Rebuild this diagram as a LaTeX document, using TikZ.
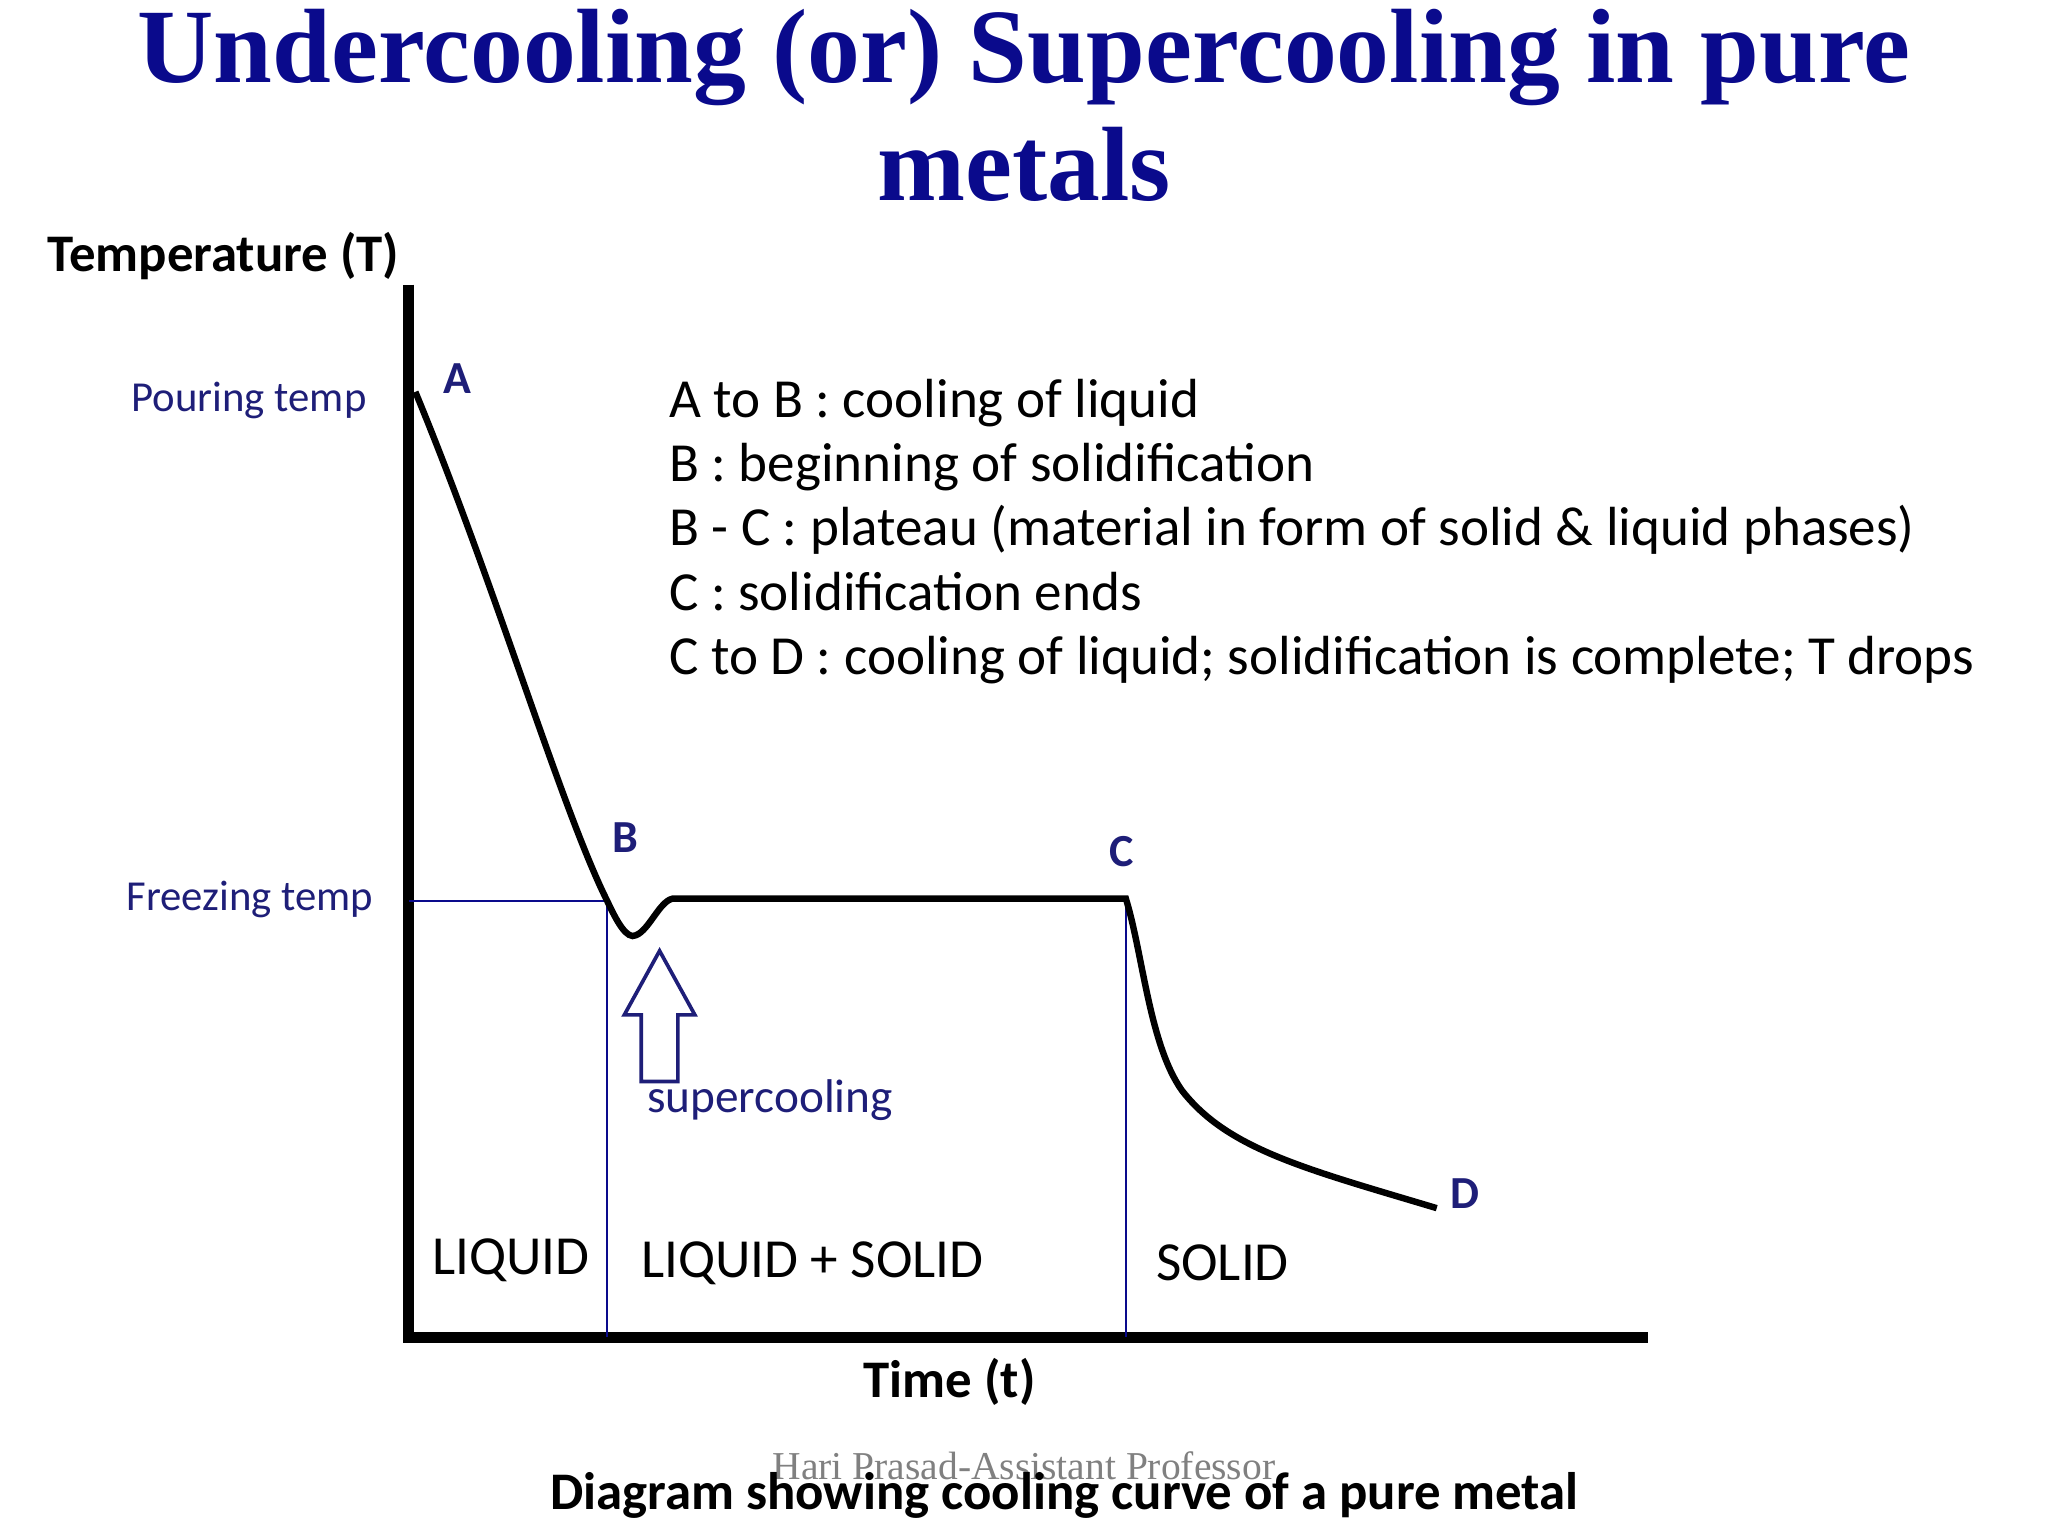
\documentclass[tikz,border=0pt]{standalone}
\usepackage{fontspec}
\setmainfont{Carlito}
\newfontfamily\titlefont{Liberation Serif}
\definecolor{tblue}{RGB}{10,10,140}
\definecolor{lblue}{RGB}{30,30,120}
\begin{document}
\begin{tikzpicture}[x=0.01cm,y=-0.01cm,
  ttl/.style={font=\titlefont\bfseries\fontsize{23}{27}\selectfont,text=tblue},
  lbl/.style={font=\fontsize{12}{14}\selectfont,text=black},
  blab/.style={font=\fontsize{9.3}{11}\selectfont,text=lblue},
  pt/.style={font=\bfseries\fontsize{10}{12}\selectfont,text=lblue},
  axis/.style={line width=2.4pt,black},
  curve/.style={line width=1.4pt,black},
  thin/.style={line width=0.45pt,tblue}]
\useasboundingbox (0,0) rectangle (1568,1176);
\node[ttl] (t1) at (784,44) {Undercooling (or) Supercooling in pure};
\node[ttl] (t2) at (784,126) {metals};
\coordinate (o) at (313,1024);
\coordinate (ytop) at (313,218);
\coordinate (xend) at (1262,1024);
\draw[axis] (ytop) -- (o) -- (xend);
\node[lbl,font=\bfseries\fontsize{11.5}{14}\selectfont,anchor=west] (yl) at (24,196) {Temperature (T)};
\node[lbl,font=\bfseries\fontsize{11.5}{14}\selectfont] (xl) at (727,1058) {Time (t)};
\coordinate (B) at (465,690);
\coordinate (C) at (862,688);
\coordinate (fz) at (313,690);
\draw[thin] (fz) -- (B) -- (465,1024);
\draw[thin] (C) -- (862,1024);
\draw[curve] (318,300) .. controls (380,450) and (430,620) .. (B)
  .. controls (472,705) and (480,720) .. (487,716)
  .. controls (497,712) and (505,690) .. (515,688) -- (C)
  .. controls (875,730) and (880,800) .. (905,835)
  .. controls (940,880) and (1000,895) .. (1100,925);
\node[blab,anchor=east] (pour) at (293,307) {Pouring temp};
\node[blab,anchor=east] (frz) at (298,689) {Freezing temp};
\node[pt] (lA) at (350,290) {A};
\node[pt] (lB) at (479,641) {B};
\node[pt] (lC) at (859,652) {C};
\node[pt] (lD) at (1122,914) {D};
\draw[lblue,line width=0.8pt] (491,828) -- (491,777) -- (478,777) -- (505,728) -- (532,777) -- (519,777) -- (519,828) -- cycle;
\node[blab,font=\fontsize{10.3}{12}\selectfont,anchor=west] (sc) at (483,842) {supercooling};
\node[lbl,anchor=west,align=left] (legend) at (500,407) {A to B : cooling of liquid\\[0pt]
B : beginning of solidification\\[0pt]
B - C : plateau (material in form of solid \& liquid phases)\\[0pt]
C : solidification ends\\[0pt]
C to D : cooling of liquid; solidification is complete; T drops};
\node[lbl] (r1) at (391,965) {LIQUID};
\node[lbl] (r2) at (622,967) {LIQUID + SOLID};
\node[lbl] (r3) at (936,967) {SOLID};
\node[font=\titlefont\fontsize{8.6}{10}\selectfont,text=gray] (wm) at (784,1122) {Hari Prasad-Assistant Professor};
\node[lbl,font=\bfseries\fontsize{11.5}{14}\selectfont] (cap) at (815,1145) {Diagram showing cooling curve of a pure metal};
\end{tikzpicture}
\end{document}
